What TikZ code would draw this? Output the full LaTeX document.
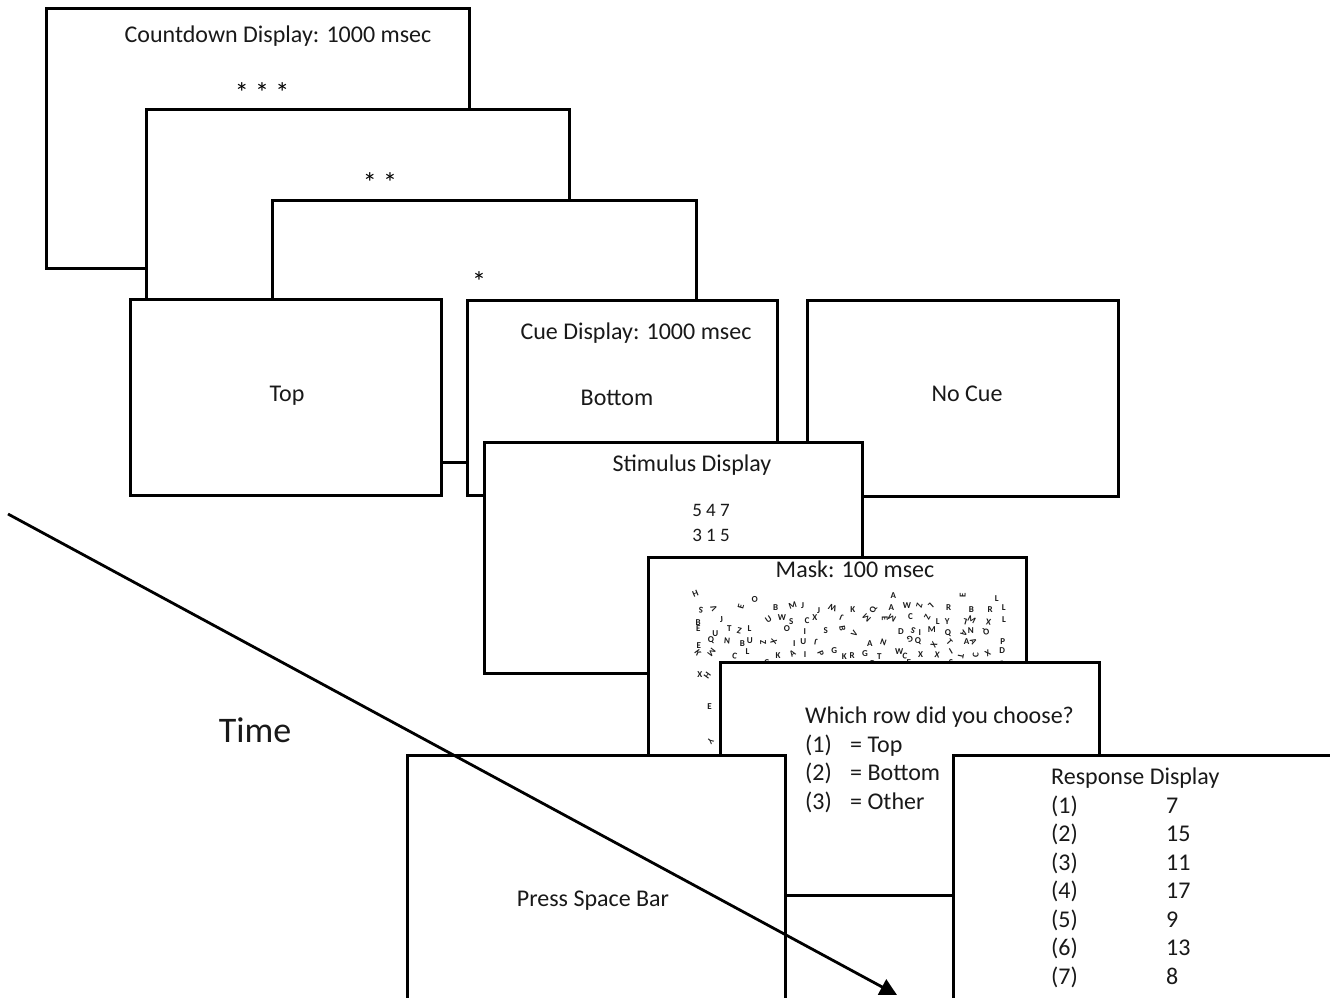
\documentclass[tikz,border=0pt]{standalone}
\usepackage{fontspec}
\setmainfont{Carlito}
\usetikzlibrary{arrows.meta}
\tikzset{
  screen/.style={draw=black, fill=white, line width=3pt, anchor=north west, inner sep=0pt},
  lbl/.style={font=\fontsize{24}{26}\selectfont, inner sep=0pt, text=black!90},
  lblb/.style={lbl, anchor=base},
  lblw/.style={lbl, anchor=base west},
  small/.style={font=\fontsize{19}{21}\selectfont, inner sep=0pt, text=black!90},
  star/.style={font=\fontsize{28}{28}\selectfont, inner sep=0pt},
  maskl/.style={font=\fontsize{9}{9}\selectfont\bfseries, inner sep=0pt, text=black!90},
  timeline/.style={line width=2.8pt, -{Triangle[length=17pt,width=17pt]}}
}
\newcommand{\scr}[5]{\node[screen, minimum width=#4pt, minimum height=#5pt] (#1) at (#2,#3) {};}
\begin{document}
\begin{tikzpicture}[x=1pt,y=-1pt]
\clip (0,0) rectangle (1330,997);
\fill[white] (0,0) rectangle (1330,997);
% countdown screens
\scr{cdA}{45}{7}{423}{260}
\node[lblb] (cdt) at (278,42) {Countdown Display: 1000 msec};
\node[star] (s3) at (262,93) {* * *};
\scr{cdB}{145}{108}{423}{261}
\node[star] (s2) at (380,183) {* *};
\scr{cdC}{271}{199}{424}{262}
\node[star] (s1) at (479,282) {*};
% cue screens
\scr{top}{129}{298}{311}{196}
\node[lblb] (topt) at (287,401) {Top};
\scr{cue}{466}{299}{310}{195}
\node[lblb] (cuet) at (636,339) {Cue Display: 1000 msec};
\node[lblb] (bott) at (617,405) {Bottom};
\scr{nocue}{806}{299}{311}{196}
\node[lblb] (nocuet) at (967,401) {No Cue};
% stimulus
\scr{stim}{483}{441}{378}{231}
\node[lblb] (stimt) at (692,471) {Stimulus Display};
\node[small] (r1) at (711,510) {5 4 7};
\node[small] (r2) at (711,535) {3 1 5};
% mask
\scr{mask}{647}{556}{378}{234}
\node[lblb] (maskt) at (855,577) {Mask: 100 msec};
\pgfmathsetseed{23}
\pgfmathdeclarerandomlist{letters}{{A}{B}{C}{D}{E}{F}{G}{H}{I}{J}{K}{L}{M}{N}{O}{P}{Q}{R}{S}{T}{U}{V}{W}{X}{Y}{Z}}
\foreach \r in {0,...,6}{
  \foreach \c in {0,...,23}{
    \pgfmathsetmacro{\keep}{(\r==0 ? 0.35 : 0.75) > rnd ? 1 : 0}
    \ifnum\keep=1
      \pgfmathsetmacro{\mx}{698+13.2*\c+5*rand}
      \pgfmathsetmacro{\my}{597+11.3*\r+3*rand}
      \pgfmathsetmacro{\mr}{rnd<0.5 ? 0 : 360*rnd}
      \pgfmathrandomitem{\L}{letters}
      \node[maskl, rotate=\mr] (m\r-\c) at (\mx,\my) {\L};
    \fi
  }
}
\foreach \r in {0,...,7}{
  \foreach \c in {0,1}{
    \pgfmathsetmacro{\keep}{0.45 > rnd ? 1 : 0}
    \ifnum\keep=1
      \pgfmathsetmacro{\mx}{698+12*\c+3*rand}
      \pgfmathsetmacro{\my}{676+10.5*\r+2*rand}
      \pgfmathsetmacro{\mr}{rnd<0.5 ? 0 : 360*rnd}
      \pgfmathrandomitem{\L}{letters}
      \node[maskl, rotate=\mr] (ml\r-\c) at (\mx,\my) {\L};
    \fi
  }
}
% question
\scr{which}{719}{661}{379}{233}
\node[lblw] (q) at (805,723) {Which row did you choose?};
\node[lblw] (q1) at (805,752) {(1)};
\node[lblw] (a1) at (850,752) {= Top};
\node[lblw] (q2) at (805,780) {(2)};
\node[lblw] (a2) at (850,780) {= Bottom};
\node[lblw] (q3) at (805,809) {(3)};
\node[lblw] (a3) at (850,809) {= Other};
% press space bar
\scr{press}{406}{754}{378}{260}
\node[lblb] (presst) at (593,906) {Press Space Bar};
% response
\scr{resp}{952}{754}{400}{260}
\node[lblw] (respt) at (1051,784) {Response Display};
\foreach \n/\v/\y in {1/7/813, 2/15/841, 3/11/870, 4/17/898, 5/9/927, 6/13/955, 7/8/984}{
  \node[lblw] (rn\n) at (1051,\y) {(\n)};
  \node[lblw] (rv\n) at (1166,\y) {\v};
}
% time axis
\node[font=\fontsize{36}{38}\selectfont, inner sep=0pt, text=black!90] (time) at (255,730) {Time};
\coordinate (ts) at (8,514);
\coordinate (te) at (897,995);
\draw[timeline] (ts) -- (te);
\end{tikzpicture}
\end{document}
